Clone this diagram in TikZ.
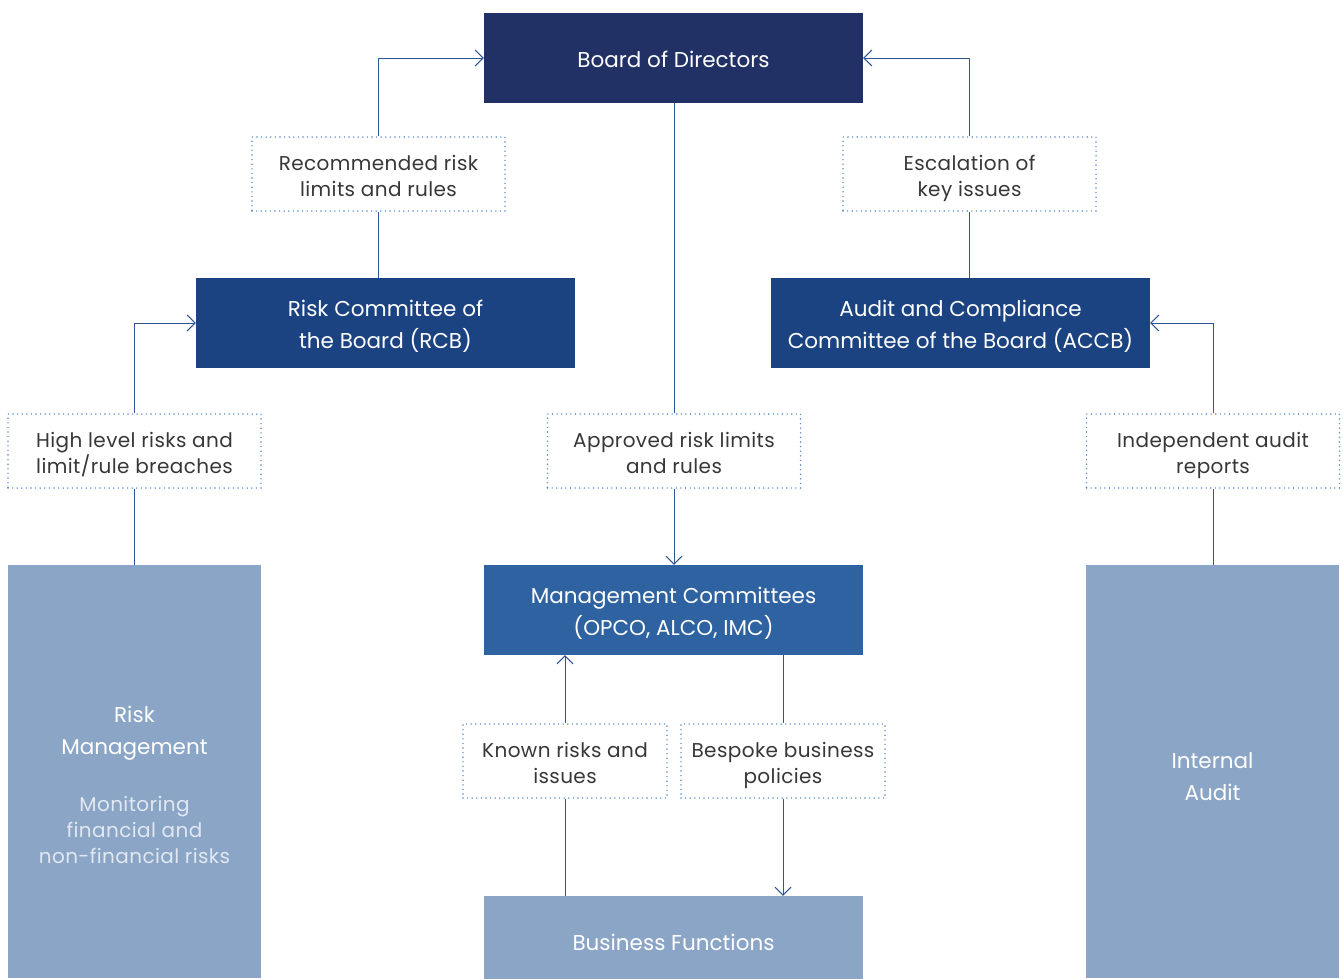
\documentclass[tikz,border=0pt]{standalone}
\usepackage{fontspec}
\setmainfont{Poppins}
\newfontfamily\notefont{Poppins}[LetterSpace=2]
\usepackage{tikz}
\usetikzlibrary{arrows.meta}

\definecolor{boardblue}{RGB}{33,49,102}
\definecolor{rcbblue}{RGB}{27,67,129}
\definecolor{mgmtblue}{RGB}{47,98,160}
\definecolor{paleblue}{RGB}{138,165,198}
\definecolor{lineblue}{RGB}{47,85,150}
\definecolor{dotblue}{RGB}{91,140,205}
\definecolor{notegray}{RGB}{55,55,55}
\definecolor{softwhite}{RGB}{226,232,241}

\begin{document}
\begin{tikzpicture}[x=1pt,y=-1pt,
    box/.style={fill=#1,text=white,inner sep=0pt,align=center,
      minimum width=379pt,minimum height=90pt,font=\fontsize{21.5}{32}\selectfont},
    oneline/.style={text height=18pt,text depth=0pt},
    twoline/.style={text height=50pt,text depth=0pt},
    note/.style={draw=dotblue,line width=1.6pt,dash pattern=on 0pt off 4.6pt,line cap=round,
      minimum width=253pt,minimum height=74pt,inner sep=0pt,align=center,
      text=notegray,font=\notefont\fontsize{20}{26}\selectfont,
      text height=44pt,text depth=0pt},
    link/.style={draw=lineblue,line width=1pt},
    >={Straight Barb[length=8pt,width=16pt]}]
  \useasboundingbox (0,0) rectangle (1343,978);
  % committees
  \node[box=boardblue,oneline] (board) at (673.5,58) {Board of Directors};
  \node[box=rcbblue,twoline] (rcb) at (385.5,323) {Risk Committee of\\the Board (RCB)};
  \node[box=rcbblue,twoline] (accb) at (960.5,323) {Audit and Compliance\\Committee of the Board (ACCB)};
  \node[box=mgmtblue,twoline] (mgmt) at (673.5,610) {Management Committees\\(OPCO, ALCO, IMC)};
  % functions
  \node[box=paleblue,minimum width=253pt,minimum height=413pt] (riskm) at (134.5,771.5)
    {\rule{0pt}{51pt}Risk\\Management\\[25pt]{\color{softwhite}\notefont\fontsize{20}{26}\selectfont
      \begin{tabular}[t]{@{}c@{}}Monitoring\\financial and\\non-financial risks\end{tabular}}};
  \node[box=paleblue,oneline] (busf) at (673.5,941) {Business Functions};
  \node[box=paleblue,minimum width=253pt,minimum height=413pt] (audit) at (1212.5,771.5)
    {\rule{0pt}{26pt}Internal\\Audit};
  % flows
  \node[note] (recom) at (378.5,174) {Recommended risk\\limits and rules};
  \node[note] (escal) at (969.5,174) {Escalation of\\key issues};
  \node[note] (high) at (134.5,451) {High level risks and\\limit/rule breaches};
  \node[note] (appr) at (674,451) {Approved risk limits\\and rules};
  \node[note] (indep) at (1213,451) {Independent audit\\reports};
  \node[note,minimum width=204pt] (known) at (565,761) {Known risks and\\issues};
  \node[note,minimum width=204pt] (besp) at (783,761) {Bespoke business\\policies};

  \draw[link,->] (recom.north) |- (board.west);
  \draw[link] (recom.south) -- (recom.south |- rcb.north);
  \draw[link,->] (escal.north) |- (board.east);
  \draw[link] (escal.south) -- (escal.south |- accb.north);
  \draw[link] (appr.north |- board.south) -- (appr.north);
  \draw[link,->] (appr.south) -- (appr.south |- mgmt.north);
  \draw[link,->] (high.north) |- (rcb.west);
  \draw[link] (high.south) -- (riskm.north);
  \draw[link,->] (indep.north) |- (accb.east);
  \draw[link] (indep.south) -- (indep.south |- audit.north);
  \draw[link,->] (known.north) -- (known.north |- mgmt.south);
  \draw[link] (known.south) -- (known.south |- busf.north);
  \draw[link] (besp.north |- mgmt.south) -- (besp.north);
  \draw[link,->] (besp.south) -- (besp.south |- busf.north);
\end{tikzpicture}
\end{document}
